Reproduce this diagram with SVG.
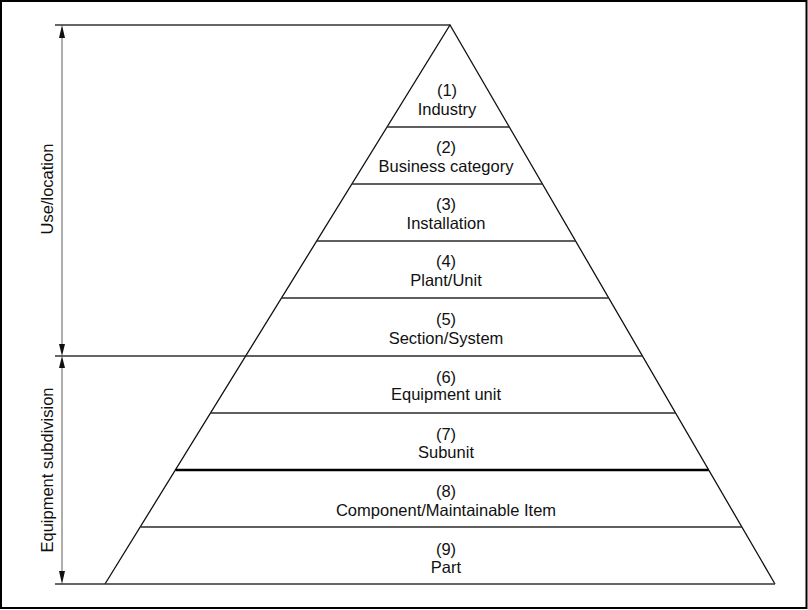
<svg xmlns="http://www.w3.org/2000/svg" width="808" height="610" viewBox="0 0 808 610">
<style>
.t{font-family:"Liberation Sans",Arial,sans-serif;font-size:16.5px;fill:#111;text-anchor:middle}
.lv{stroke:#2a2a2a;stroke-width:1.4;fill:none}
.side{stroke:#111;stroke-width:1.3;fill:none}
.dim{stroke:#777;stroke-width:1.2;fill:none}
.ext{stroke:#333;stroke-width:1.3;fill:none}
.ah{fill:#111}
</style>
<rect x="1" y="1" width="805.5" height="607" fill="#fff" stroke="#000" stroke-width="2"/>
<g id="connectors">
  <line class="ext" x1="55" y1="25" x2="450" y2="25"/>
  <line class="ext" x1="55" y1="356" x2="246" y2="356"/>
  <line class="ext" x1="55" y1="584" x2="105" y2="584"/>
  <line class="dim" x1="62" y1="30" x2="62" y2="350"/>
  <line class="dim" x1="62" y1="362" x2="62" y2="579"/>
  <polygon class="ah" points="62,25 59,38 65,38"/>
  <polygon class="ah" points="62,356 59,344 65,344"/>
  <polygon class="ah" points="62,356 59,368 65,368"/>
  <polygon class="ah" points="62,584 59,571 65,571"/>
</g>
<g id="pyramid">
  <polyline class="side" points="105,584 450,25 775,584"/>
  <line class="ext" x1="105" y1="584" x2="775" y2="584"/>
</g>
<g id="level1"><line class="lv" x1="387.3" y1="127" x2="509.3" y2="127"/><text class="t" x="447" y="96">(1)</text><text class="t" x="447" y="115">Industry</text></g>
<g id="level2"><line class="lv" x1="352.1" y1="184" x2="542.4" y2="184"/><text class="t" x="446" y="153">(2)</text><text class="t" x="446" y="172">Business category</text></g>
<g id="level3"><line class="lv" x1="316.9" y1="241" x2="575.6" y2="241"/><text class="t" x="446" y="210">(3)</text><text class="t" x="446" y="229">Installation</text></g>
<g id="level4"><line class="lv" x1="281.8" y1="298" x2="608.7" y2="298"/><text class="t" x="446" y="267">(4)</text><text class="t" x="446" y="286">Plant/Unit</text></g>
<g id="level5"><line class="lv" x1="246" y1="356" x2="642.4" y2="356"/><text class="t" x="446" y="325">(5)</text><text class="t" x="446" y="344">Section/System</text></g>
<g id="level6"><line class="lv" x1="210.8" y1="413" x2="675.6" y2="413"/><text class="t" x="446" y="383">(6)</text><text class="t" x="446" y="400">Equipment unit</text></g>
<g id="level7"><line stroke="#000" stroke-width="2.6" x1="175.6" y1="470" x2="708.7" y2="470"/><text class="t" x="446" y="440">(7)</text><text class="t" x="446" y="458">Subunit</text></g>
<g id="level8"><line class="lv" x1="140.4" y1="527" x2="741.9" y2="527"/><text class="t" x="446" y="497">(8)</text><text class="t" x="446" y="516">Component/Maintainable Item</text></g>
<g id="level9"><text class="t" x="446" y="555">(9)</text><text class="t" x="446" y="573">Part</text></g>
<g id="labels">
  <text class="t" transform="translate(53,189) rotate(-90)">Use/location</text>
  <text class="t" transform="translate(53,470) rotate(-90)">Equipment subdivision</text>
</g>
</svg>
